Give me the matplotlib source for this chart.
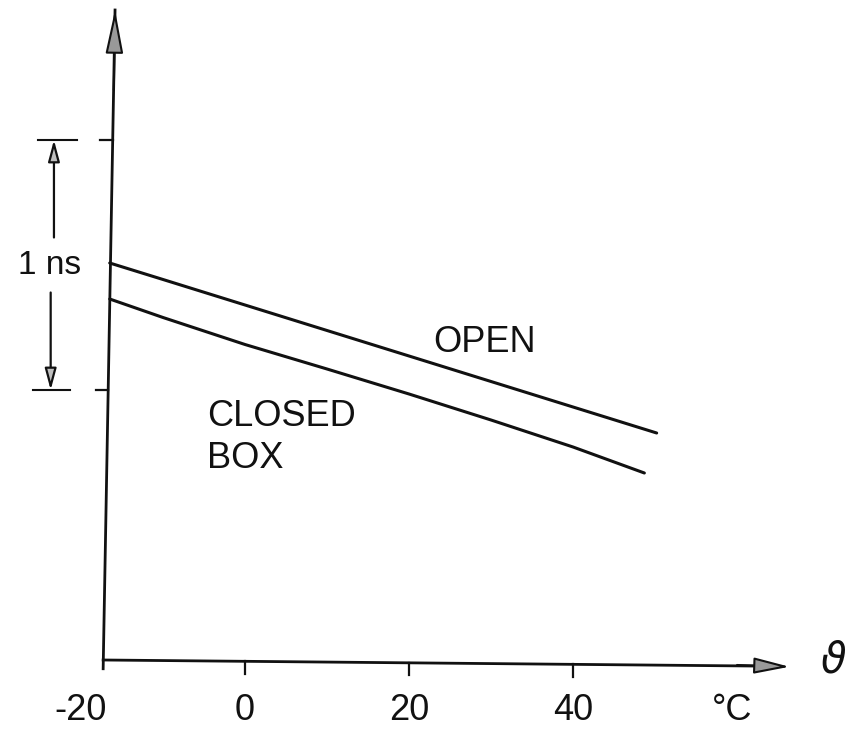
import numpy as np
import matplotlib
matplotlib.use("Agg")
import matplotlib.pyplot as plt

plt.rcParams['font.family'] = ['Liberation Sans', 'DejaVu Sans']

# delay vs. temperature (theta in degC, delay in ns)
temp_open = [-16.5, -10, 0, 10, 20, 30, 40, 50.2]
delay_open = [1.508, 1.442, 1.340, 1.238, 1.136, 1.034, 0.932, 0.828]

temp_closed = [-16.5, -10, 0, 10, 20, 30, 40, 48.7]
delay_closed = [1.364, 1.290, 1.182, 1.084, 0.984, 0.880, 0.772, 0.668]

xtick_vals = [-20, 0, 20, 40]
xtick_labels = ['-20', '0', '20', '40']
ns_marks = [1, 2]   # the 1 ns bracket

# hand drawn axes, slightly skewed
x_axis = ([-17.3, 65.0], [-0.08, -0.105])
y_axis = ([-17.3, -15.85], [-0.115, 2.52])

fig = plt.figure(figsize=(8.51, 7.43), dpi=100)
ax = fig.add_axes([0, 0, 1, 1])
ax.set_xlim(-29.88, 73.9)
ax.set_ylim(-0.412, 2.56)
ax.axis('off')

ink = '#111111'

# axes with arrow heads
ax.plot(x_axis[0], x_axis[1], color=ink, lw=2)
ax.annotate('', xy=(66.4, -0.107), xytext=(60, -0.1),
            arrowprops=dict(arrowstyle='-|>,head_length=2.2,head_width=0.5',
                            lw=1.5, fc='0.6', ec=ink, shrinkA=0, shrinkB=0))
ax.plot(y_axis[0], y_axis[1], color=ink, lw=2)
ax.annotate('', xy=(-15.85, 2.52), xytext=(-16.0, 2.2),
            arrowprops=dict(arrowstyle='-|>,head_length=2.7,head_width=0.55',
                            lw=1.5, fc='0.6', ec=ink, shrinkA=0, shrinkB=0))

# x ticks hang below the sloping axis
for v in xtick_vals[1:]:
    y0 = np.interp(v, x_axis[0], x_axis[1])
    ax.plot([v, v], [y0, y0 - 0.05], color=ink, lw=1.6)
for v, lab in zip(xtick_vals, xtick_labels):
    ax.text(v, -0.284, lab, fontsize=26, ha='center', va='center', color=ink)
ax.text(59.4, -0.284, '°C', fontsize=26, ha='center', va='center', color=ink)
ax.text(71.8, -0.085, r'$\vartheta$', fontsize=30, ha='center', va='center', color=ink)

# y ticks and the 1 ns bracket
for m in ns_marks:
    x0 = np.interp(m, y_axis[1], y_axis[0])
    ax.plot([x0 - 1.5, x0], [m, m], color=ink, lw=1.6)
ax.plot([-25.2, -20.5], [ns_marks[1], ns_marks[1]], color=ink, lw=1.5)
ax.plot([-25.8, -21.3], [ns_marks[0], ns_marks[0]], color=ink, lw=1.5)
ax.annotate('', xy=(-23.3, ns_marks[1]), xytext=(-23.3, 1.61),
            arrowprops=dict(arrowstyle='-|>,head_length=1.3,head_width=0.35',
                            lw=1.6, fc='0.75', ec=ink, shrinkA=0, shrinkB=0))
ax.annotate('', xy=(-23.7, ns_marks[0]), xytext=(-23.7, 1.39),
            arrowprops=dict(arrowstyle='-|>,head_length=1.3,head_width=0.35',
                            lw=1.6, fc='0.75', ec=ink, shrinkA=0, shrinkB=0))
ax.text(-23.8, 1.5, '1 ns', fontsize=24, ha='center', va='center', color=ink)

# curves
ax.plot(temp_open, delay_open, color=ink, lw=2.2, solid_capstyle='round')
ax.plot(temp_closed, delay_closed, color=ink, lw=2.2, solid_capstyle='round')

ax.text(29.2, 1.19, 'OPEN', fontsize=26, ha='center', va='center', color=ink)
ax.text(-4.6, 0.81, 'CLOSED\nBOX', fontsize=26, ha='left', va='center',
        linespacing=1.25, color=ink)

fig.savefig('out.png', dpi=100)
